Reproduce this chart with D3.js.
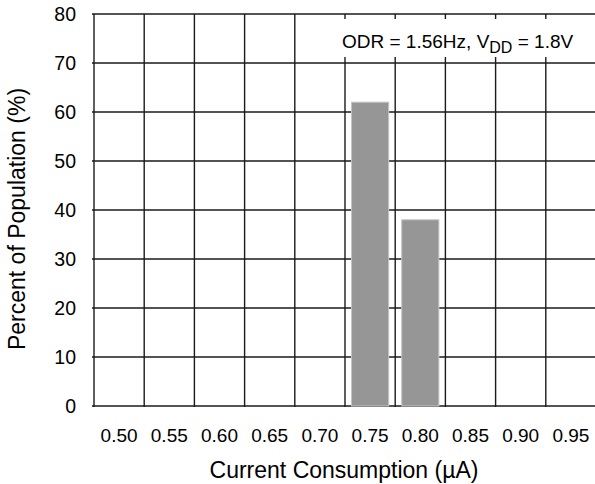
<!DOCTYPE html>
<html>
<head>
<meta charset="utf-8">
<script src="https://cdn.jsdelivr.net/npm/d3@7"></script>
<style>
  body { margin: 0; background: #fff; }
  svg { display: block; font-family: "Liberation Sans", Arial, sans-serif; }
</style>
</head>
<body>
<div id="chart"></div>
<script>
const categories = ['0.50', '0.55', '0.60', '0.65', '0.70', '0.75', '0.80', '0.85', '0.90', '0.95'];
const percentValues = [0, 0, 0, 0, 0, 62, 38, 0, 0, 0];
const yTicks = [0, 10, 20, 30, 40, 50, 60, 70, 80];

const width = 595;
const height = 484;
const margin = {top: 14, right: -1, bottom: 78, left: 94};

const svg = d3.select('#chart')
    .append('svg')
    .attr('width', width)
    .attr('height', height);

const x = d3.scaleBand()
    .domain(categories)
    .range([margin.left, width - margin.right])
    .padding(0);

const y = d3.scaleLinear()
    .domain([0, 80])
    .range([height - margin.bottom, margin.top]);

const data = categories.map((c, i) => ({cat: c, value: percentValues[i]}));

// grid lines
const grid = svg.append('g').attr('stroke', '#1a1a1a').attr('stroke-width', 1.4);
grid.selectAll('.hline')
    .data(yTicks)
    .join('line')
    .attr('class', 'hline')
    .attr('x1', margin.left - 2)
    .attr('x2', width)
    .attr('y1', d => y(d))
    .attr('y2', d => y(d));

const xEdges = categories.map(c => x(c)).concat([x(categories[categories.length - 1]) + x.bandwidth()]);
grid.selectAll('.vline')
    .data(xEdges)
    .join('line')
    .attr('class', 'vline')
    .attr('x1', d => d)
    .attr('x2', d => d)
    .attr('y1', y(80))
    .attr('y2', y(0) + 1);

// bars
const barPad = x.bandwidth() * 0.13;
svg.append('g')
    .selectAll('rect')
    .data(data.filter(d => d.value > 0))
    .join('rect')
    .attr('x', d => x(d.cat) + barPad)
    .attr('width', x.bandwidth() - 2 * barPad)
    .attr('y', d => y(d.value))
    .attr('height', d => y(0) - y(d.value))
    .attr('fill', '#969696')
    .attr('stroke', '#c4c4c4')
    .attr('stroke-width', 1);

// y tick labels
svg.append('g')
    .selectAll('text')
    .data(yTicks)
    .join('text')
    .attr('x', 76)
    .attr('y', d => y(d))
    .attr('dy', '0.36em')
    .attr('text-anchor', 'end')
    .style('font-size', '19.5px')
    .attr('fill', '#000')
    .text(d => d);

// x tick labels
svg.append('g')
    .selectAll('text')
    .data(categories)
    .join('text')
    .attr('x', d => x(d) + x.bandwidth() / 2)
    .attr('y', 442)
    .attr('text-anchor', 'middle')
    .style('font-size', '19px')
    .attr('fill', '#000')
    .text(d => d);

// axis titles
svg.append('text')
    .attr('x', 344)
    .attr('y', 478)
    .attr('text-anchor', 'middle')
    .style('font-size', '23px')
    .text('Current Consumption (\u00B5A)');

svg.append('text')
    .attr('transform', `translate(25, 219) rotate(-90)`)
    .attr('text-anchor', 'middle')
    .style('font-size', '23px')
    .text('Percent of Population (%)');

// annotation on a white box that hides the grid behind it
svg.append('rect')
    .attr('x', 300)
    .attr('y', 19)
    .attr('width', width - 300)
    .attr('height', 38)
    .attr('fill', '#fff');

const note = svg.append('text')
    .attr('x', 342)
    .attr('y', 48)
    .style('font-size', '19px');
note.append('tspan').text('ODR = 1.56Hz, V');
note.append('tspan').attr('dy', 5).style('font-size', '16px').text('DD');
note.append('tspan').attr('dy', -5).text(' = 1.8V');
</script>
</body>
</html>
